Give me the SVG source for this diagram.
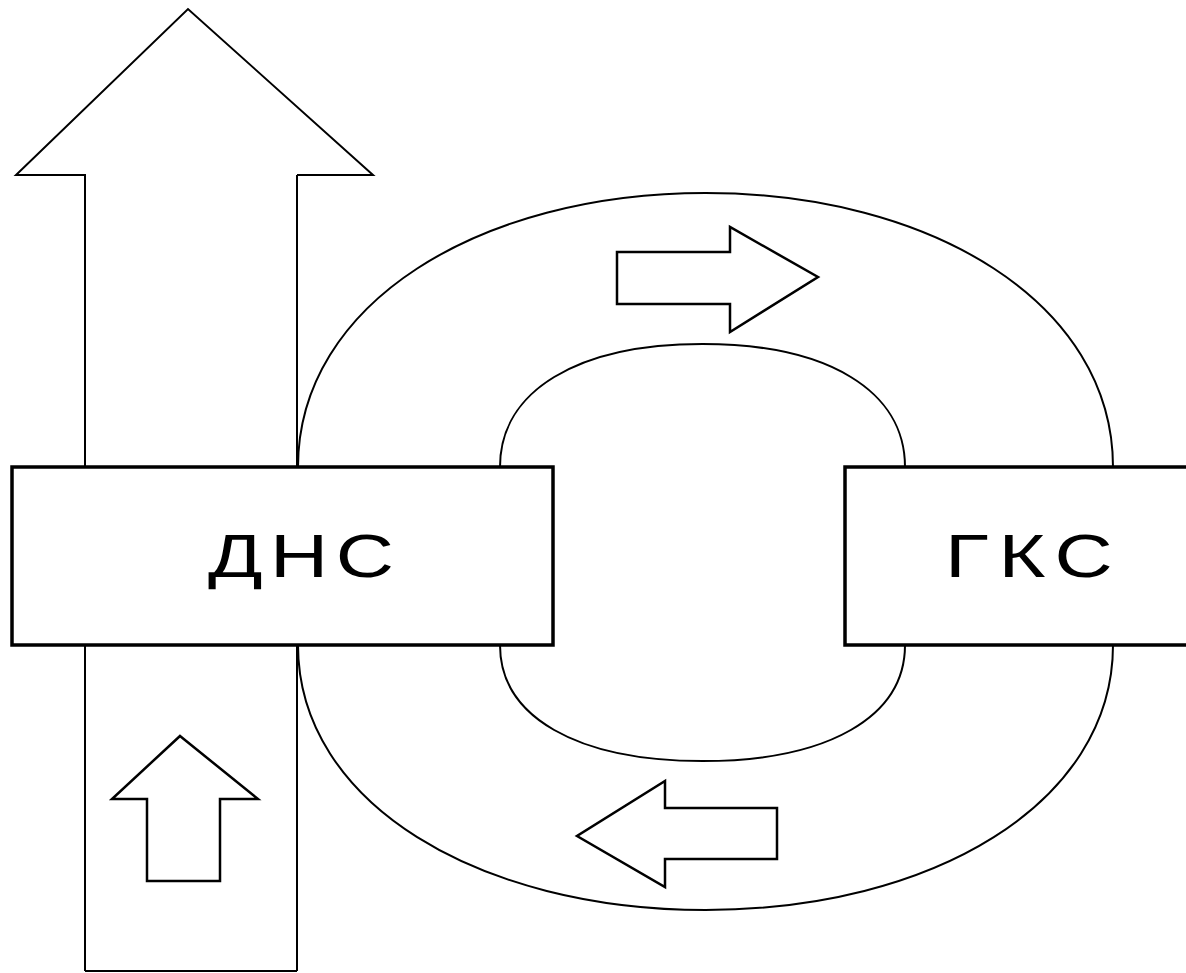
<svg xmlns="http://www.w3.org/2000/svg" width="1186" height="973" viewBox="0 0 1186 973">
<style>
.ln{fill:none;stroke:#000;stroke-width:2;stroke-linejoin:miter}
.ar{fill:#fff;stroke:#000;stroke-width:2.5;stroke-linejoin:miter}
.box{fill:#fff;stroke:#000;stroke-width:3.5}
.lbl{font-family:"Liberation Sans","DejaVu Sans",sans-serif;font-size:62px;fill:#000}
</style>
<rect width="1186" height="973" fill="#fff"/>
<g id="connectors">
<g id="ring">
<path class="ln" d="M298,467 C298,303 480,193 705.5,193 C931,193 1113,303 1113,467 L1113,645 C1113,804 931,910 705.5,910 C480,910 298,804 298,645 Z"/>
<path class="ln" d="M500,467 C500,391 577,344 702.5,344 C828,344 905,391 905,467 L905,645 C905,717 828,761 702.5,761 C577,761 500,717 500,645 Z"/>
</g>
<g id="big-arrow">
<path class="ln" d="M85,971 L85,175 L16,175 L188,9 L373,175 L297,175" stroke-width="2.5"/>
<path class="ln" d="M297,175 L297,971" stroke-width="4"/>
<path class="ln" d="M85,971 L297,971" stroke-width="3"/>
</g>
<polygon id="arrow-right" class="ar" points="617,252 730,252 730,227 818,277 730,332 730,304 617,304"/>
<polygon id="arrow-left" class="ar" points="777,808 665,808 665,781 577,836 665,887 665,859 777,859"/>
<polygon id="arrow-up" class="ar" points="180,736 258,799 220,799 220,881 147,881 147,799 112,799"/>
</g>
<g id="node-dns">
<rect class="box" x="12" y="467" width="541" height="178"/>
<text class="lbl" transform="translate(208,577) scale(1.3,1)" x="0" y="0" textLength="143" lengthAdjust="spacing">ДНС</text>
</g>
<g id="node-gks">
<rect class="box" x="845" y="467" width="350" height="178"/>
<text class="lbl" transform="translate(945,577) scale(1.3,1)" x="0" y="0" textLength="129" lengthAdjust="spacing">ГКС</text>
</g>
</svg>
